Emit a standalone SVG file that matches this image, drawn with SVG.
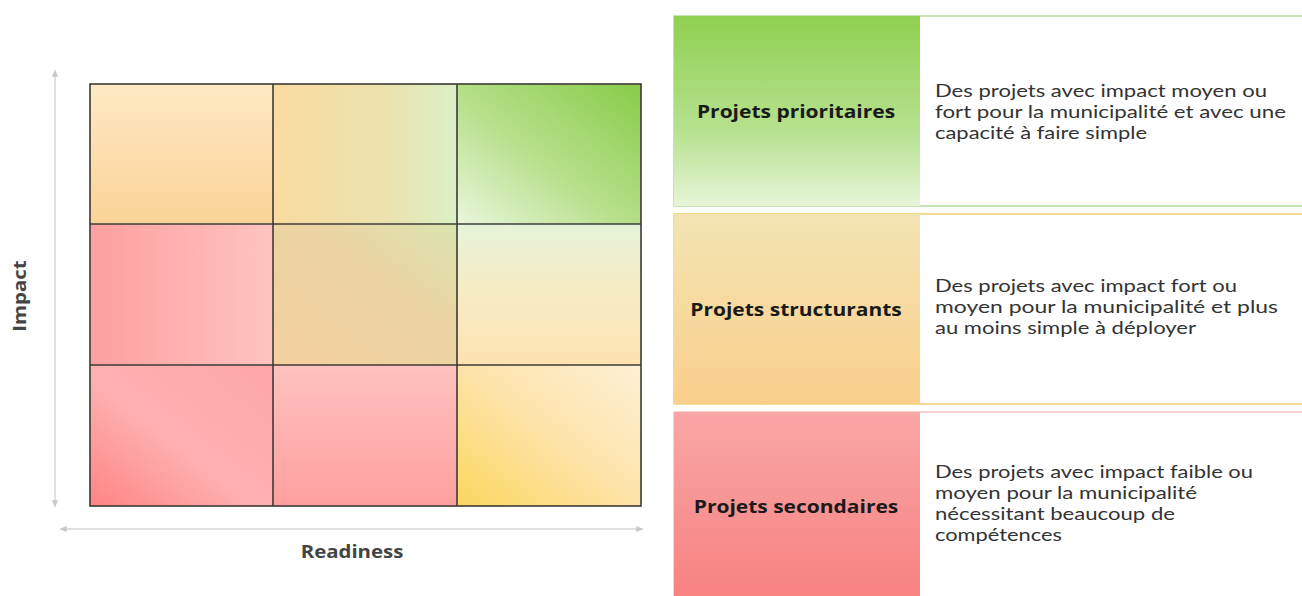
<svg xmlns="http://www.w3.org/2000/svg" width="1302" height="596" viewBox="0 0 1302 596">
<defs>
<style>
.lbl{font-family:"Open Sans","Liberation Sans",sans-serif;font-weight:bold;font-size:17.5px;fill:#1a1a1a;text-anchor:middle}
.desc{font-family:Lato,"Open Sans","Liberation Sans",sans-serif;font-size:17.5px;fill:#333}
.axis{font-family:"Open Sans","Liberation Sans",sans-serif;font-weight:bold;font-size:17px;fill:#444;text-anchor:middle}
.grid{fill:none;stroke:#3c3a36;stroke-width:1.6}
.ax{stroke:#d6d6d6;stroke-width:1.5;fill:none}
</style>
<marker id="ah" viewBox="0 0 10 10" refX="5" refY="5" markerWidth="5" markerHeight="5" orient="auto-start-reverse">
<path d="M0,1 L10,5 L0,9 z" fill="#c8c8c8"/>
</marker>
<linearGradient id="c00" x1="0" y1="0" x2="0" y2="1"><stop offset="0" stop-color="#fee9c2"/><stop offset="1" stop-color="#fbd398"/></linearGradient>
<linearGradient id="c01" x1="0" y1="0" x2="1" y2="0"><stop offset="0" stop-color="#f9dba0"/><stop offset="0.6" stop-color="#ece2ad"/><stop offset="1" stop-color="#daf0c6"/></linearGradient>
<linearGradient id="c02" x1="0" y1="1" x2="1" y2="0"><stop offset="0" stop-color="#eaf6dc"/><stop offset="0.45" stop-color="#b7e08c"/><stop offset="1" stop-color="#88cb48"/></linearGradient>
<linearGradient id="c10" x1="0" y1="0" x2="1" y2="0"><stop offset="0" stop-color="#fd9f9f"/><stop offset="1" stop-color="#fec4c0"/></linearGradient>
<linearGradient id="c11" x1="0" y1="1" x2="1" y2="0"><stop offset="0" stop-color="#f4d0a0"/><stop offset="0.6" stop-color="#ecd4a2"/><stop offset="1" stop-color="#d9e4b0"/></linearGradient>
<linearGradient id="c12" x1="0" y1="0" x2="0" y2="1"><stop offset="0" stop-color="#e6f4d8"/><stop offset="0.5" stop-color="#f7ebc4"/><stop offset="1" stop-color="#fde2b0"/></linearGradient>
<linearGradient id="c20" x1="0" y1="1" x2="1" y2="0"><stop offset="0" stop-color="#fe8484"/><stop offset="0.45" stop-color="#feb0b0"/><stop offset="1" stop-color="#fea8a8"/></linearGradient>
<linearGradient id="c21" x1="0" y1="0" x2="0" y2="1"><stop offset="0" stop-color="#fec2be"/><stop offset="1" stop-color="#fe9f9f"/></linearGradient>
<linearGradient id="c22" x1="0" y1="1" x2="1" y2="0"><stop offset="0" stop-color="#fbd75e"/><stop offset="0.5" stop-color="#fde3a8"/><stop offset="1" stop-color="#fef0d6"/></linearGradient>
<linearGradient id="gG" x1="0" y1="0" x2="0" y2="1"><stop offset="0" stop-color="#8fd050"/><stop offset="0.6" stop-color="#b6e18e"/><stop offset="1" stop-color="#e6f5d8"/></linearGradient>
<linearGradient id="gY" x1="0" y1="0" x2="0" y2="1"><stop offset="0" stop-color="#f2e4b2"/><stop offset="1" stop-color="#fbcf8c"/></linearGradient>
<linearGradient id="gR" x1="0" y1="0" x2="0" y2="1"><stop offset="0" stop-color="#f9a6a6"/><stop offset="1" stop-color="#f77f7f"/></linearGradient>
</defs>
<rect width="1302" height="596" fill="#ffffff"/>

<g id="connectors">
<line class="ax" x1="55" y1="73" x2="55" y2="504" marker-start="url(#ah)" marker-end="url(#ah)"/>
<line class="ax" x1="63" y1="529" x2="640" y2="529" marker-start="url(#ah)" marker-end="url(#ah)"/>
</g>

<g id="matrix">
<rect x="90" y="84" width="183" height="140" fill="url(#c00)"/>
<rect x="273" y="84" width="184" height="140" fill="url(#c01)"/>
<rect x="457" y="84" width="184" height="140" fill="url(#c02)"/>
<rect x="90" y="224" width="183" height="141" fill="url(#c10)"/>
<rect x="273" y="224" width="184" height="141" fill="url(#c11)"/>
<rect x="457" y="224" width="184" height="141" fill="url(#c12)"/>
<rect x="90" y="365" width="183" height="141" fill="url(#c20)"/>
<rect x="273" y="365" width="184" height="141" fill="url(#c21)"/>
<rect x="457" y="365" width="184" height="141" fill="url(#c22)"/>
<rect class="grid" x="90" y="84" width="551" height="422"/>
<line class="grid" x1="273" y1="84" x2="273" y2="506"/>
<line class="grid" x1="457" y1="84" x2="457" y2="506"/>
<line class="grid" x1="90" y1="224" x2="641" y2="224"/>
<line class="grid" x1="90" y1="365" x2="641" y2="365"/>
</g>

<g id="axis-impact"><text class="axis" transform="translate(26,296) rotate(-90) scale(1.2,1)">Impact</text></g>
<g id="axis-readiness"><text class="axis" transform="translate(352,558) scale(1.2,1)">Readiness</text></g>

<g id="row-prioritaires">
<rect x="674" y="16" width="640" height="190" fill="#ffffff" stroke="#b5dc96" stroke-width="1.5"/>
<rect x="674" y="16" width="246" height="190" fill="url(#gG)"/>
<text class="lbl" transform="translate(796,118) scale(1.2,1)">Projets prioritaires</text>
<text class="desc" x="935" y="97" textLength="332" lengthAdjust="spacingAndGlyphs">Des projets avec impact moyen ou</text>
<text class="desc" x="935" y="118" textLength="351" lengthAdjust="spacingAndGlyphs">fort pour la municipalité et avec une</text>
<text class="desc" x="935" y="139" textLength="212" lengthAdjust="spacingAndGlyphs">capacité à faire simple</text>
</g>

<g id="row-structurants">
<rect x="674" y="214" width="640" height="190" fill="#ffffff" stroke="#f2cf6a" stroke-width="1.5"/>
<rect x="674" y="214" width="246" height="190" fill="url(#gY)"/>
<text class="lbl" transform="translate(796,316) scale(1.2,1)">Projets structurants</text>
<text class="desc" x="935" y="292" textLength="302" lengthAdjust="spacingAndGlyphs">Des projets avec impact fort ou</text>
<text class="desc" x="935" y="313" textLength="343" lengthAdjust="spacingAndGlyphs">moyen pour la municipalité et plus</text>
<text class="desc" x="935" y="334" textLength="261" lengthAdjust="spacingAndGlyphs">au moins simple à déployer</text>
</g>

<g id="row-secondaires">
<rect x="674" y="412" width="640" height="200" fill="#ffffff" stroke="#f9c4c4" stroke-width="1.5"/>
<rect x="674" y="412" width="246" height="200" fill="url(#gR)"/>
<text class="lbl" transform="translate(796,513) scale(1.2,1)">Projets secondaires</text>
<text class="desc" x="935" y="478" textLength="318" lengthAdjust="spacingAndGlyphs">Des projets avec impact faible ou</text>
<text class="desc" x="935" y="499" textLength="262" lengthAdjust="spacingAndGlyphs">moyen pour la municipalité</text>
<text class="desc" x="935" y="520" textLength="240" lengthAdjust="spacingAndGlyphs">nécessitant beaucoup de</text>
<text class="desc" x="935" y="541" textLength="127" lengthAdjust="spacingAndGlyphs">compétences</text>
</g>
</svg>
